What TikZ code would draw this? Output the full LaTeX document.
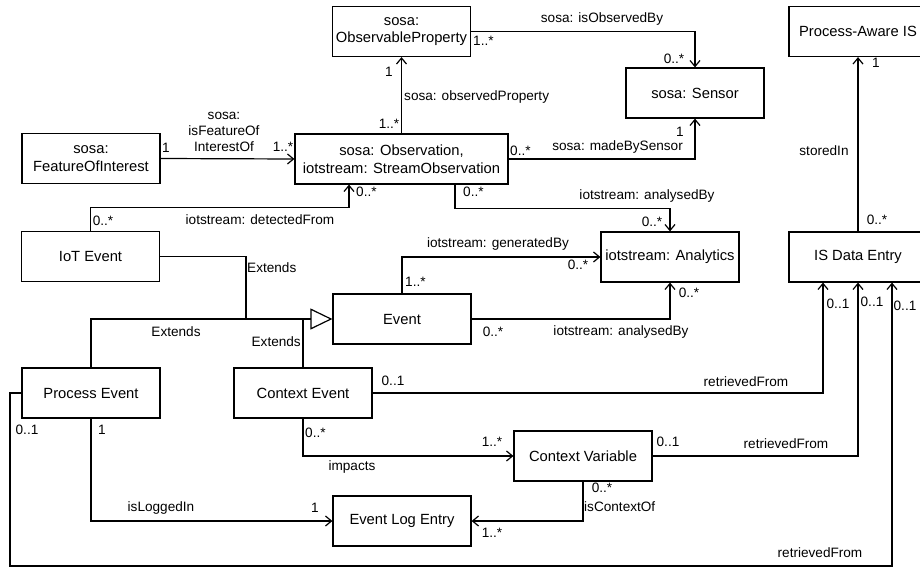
\documentclass[tikz,border=0pt]{standalone}
\usepackage{fontspec}
\setmainfont{Liberation Sans}
\usetikzlibrary{arrows.meta}
\begin{document}
\begin{tikzpicture}[x=1pt,y=-1pt,
  box/.style={draw, line width=1.2pt, fill=white, minimum width=138pt, minimum height=50pt, align=center, inner sep=1pt, font=\fontsize{14.75}{17.5}\selectfont},
  lbl/.style={inner sep=0pt, font=\fontsize{13.6}{16}\selectfont, align=center},
  conn/.style={line width=1.2pt},
  arr/.style={conn, -{Straight Barb[length=6pt,width=10pt,line width=1.2pt]}},
  inh/.style={conn, -{Triangle[open,length=22pt,width=21pt,fill=white,line width=1.2pt]}}
]
\useasboundingbox (0,0) rectangle (920,567);
\clip (0,0) rectangle (920,567);
\fill[white] (0,0) rectangle (920,567);

% nodes
\node[box] (prop) at (401.5,31.5) {sosa:\\ObservableProperty};
\node[box] (sensor) at (695,93) {sosa: Sensor};
\node[box] (pais) at (858,31.5) {Process-Aware IS};
\node[box] (foi) at (91,158.5) {sosa:\\FeatureOfInterest};
\node[box, minimum width=213pt] (obs) at (401.5,159) {sosa: Observation,\\iotstream: StreamObservation};
\node[box] (iot) at (90.5,256.5) {IoT Event};
\node[box] (ana) at (670,257) {iotstream: Analytics};
\node[box] (isde) at (858,257) {IS Data Entry};
\node[box] (event) at (402,319) {Event};
\node[box] (pe) at (91,393) {Process Event};
\node[box] (ce) at (303,393) {Context Event};
\node[box] (cv) at (583,456) {Context Variable};
\node[box] (ele) at (402,521) {Event Log Entry};

\coordinate (jn) at (246,319);
\coordinate (pl) at (10,566);

% connectors
\draw[arr] (obs.north) -- (prop.south);
\draw[arr] (prop.east) -| (sensor.north);
\draw[arr] (obs.east) -| (sensor.south);
\draw[arr] (foi.east) -- (obs.west);
\draw[arr] (iot.north) -- ++(0,-23.5) -| ([xshift=-52.5pt]obs.south);
\draw[arr] ([xshift=53.5pt]obs.south) -- ++(0,24) -| (ana.north);
\draw[arr] (event.north) |- (ana.west);
\draw[arr] (event.east) -| (ana.south);
\draw[arr] (isde.north) -- (pais.south);
\draw[conn] (iot.east) -| (jn);
\draw[conn] (ce.north) -- (ce.north |- event.west);
\draw[inh] (pe.north) |- (event.west);
\draw[arr] (ce.east) -| ([xshift=-35pt]isde.south);
\draw[arr] (cv.east) -| (isde.south);
\draw[arr] (pe.west) -| (pl) -| ([xshift=34pt]isde.south);
\draw[arr] (pe.south) |- (ele.west);
\draw[arr] (ce.south) |- (cv.west);
\draw[arr] (cv.south) |- (ele.east);

% labels
\node[lbl] (l1) at (389,72) {1};
\node[lbl] (l2) at (389,124) {1..*};
\node[lbl, anchor=west] (l3) at (404,97) {sosa: observedProperty};
\node[lbl, anchor=west] (l4) at (473,41) {1..*};
\node[lbl] (l5) at (602,19) {sosa: isObservedBy};
\node[lbl] (l6) at (674,59) {0..*};
\node[lbl, anchor=west] (l7) at (510,151) {0..*};
\node[lbl, anchor=east] (l8) at (683,147) {sosa: madeBySensor};
\node[lbl] (l9) at (680,132) {1};
\node[lbl] (l10) at (166,148) {1};
\node[lbl] (l11) at (283,147) {1..*};
\node[lbl, font=\fontsize{13.6}{15.8}\selectfont] (l12) at (224,132) {sosa:\\isFeatureOf\\InterestOf};
\node[lbl] (l13) at (103,221) {0..*};
\node[lbl] (l14) at (260,220) {iotstream: detectedFrom};
\node[lbl, anchor=west] (l15) at (356,192) {0..*};
\node[lbl, anchor=west] (l16) at (463,192) {0..*};
\node[lbl] (l17) at (647,196) {iotstream: analysedBy};
\node[lbl] (l18) at (652,222) {0..*};
\node[lbl] (l19) at (498,244) {iotstream: generatedBy};
\node[lbl, anchor=west] (l20) at (405,282) {1..*};
\node[lbl] (l21) at (578,265) {0..*};
\node[lbl] (l22) at (493,332) {0..*};
\node[lbl] (l23) at (621,332) {iotstream: analysedBy};
\node[lbl] (l24) at (689,293) {0..*};
\node[lbl, anchor=west] (l25) at (247,268) {Extends};
\node[lbl] (l26) at (176,332) {Extends};
\node[lbl, anchor=east] (l27) at (301,342) {Extends};
\node[lbl] (l28) at (876,63) {1};
\node[lbl] (l29) at (824,151) {storedIn};
\node[lbl] (l30) at (877,220) {0..*};
\node[lbl] (l31) at (838,304) {0..1};
\node[lbl] (l32) at (872,302) {0..1};
\node[lbl] (l33) at (905,306) {0..1};
\node[lbl] (l34) at (393,381) {0..1};
\node[lbl] (l35) at (746,382) {retrievedFrom};
\node[lbl] (l36) at (668,442) {0..1};
\node[lbl] (l37) at (786,444) {retrievedFrom};
\node[lbl] (l38) at (820,553) {retrievedFrom};
\node[lbl] (l39) at (27,430) {0..1};
\node[lbl] (l40) at (102,430) {1};
\node[lbl] (l41) at (161,508) {isLoggedIn};
\node[lbl] (l42) at (315,508) {1};
\node[lbl, anchor=west] (l43) at (305,433) {0..*};
\node[lbl] (l44) at (352,467) {impacts};
\node[lbl] (l45) at (492,442) {1..*};
\node[lbl] (l46) at (602,488) {0..*};
\node[lbl, anchor=west] (l47) at (584,507) {isContextOf};
\node[lbl] (l48) at (492,533) {1..*};
\end{tikzpicture}
\end{document}
